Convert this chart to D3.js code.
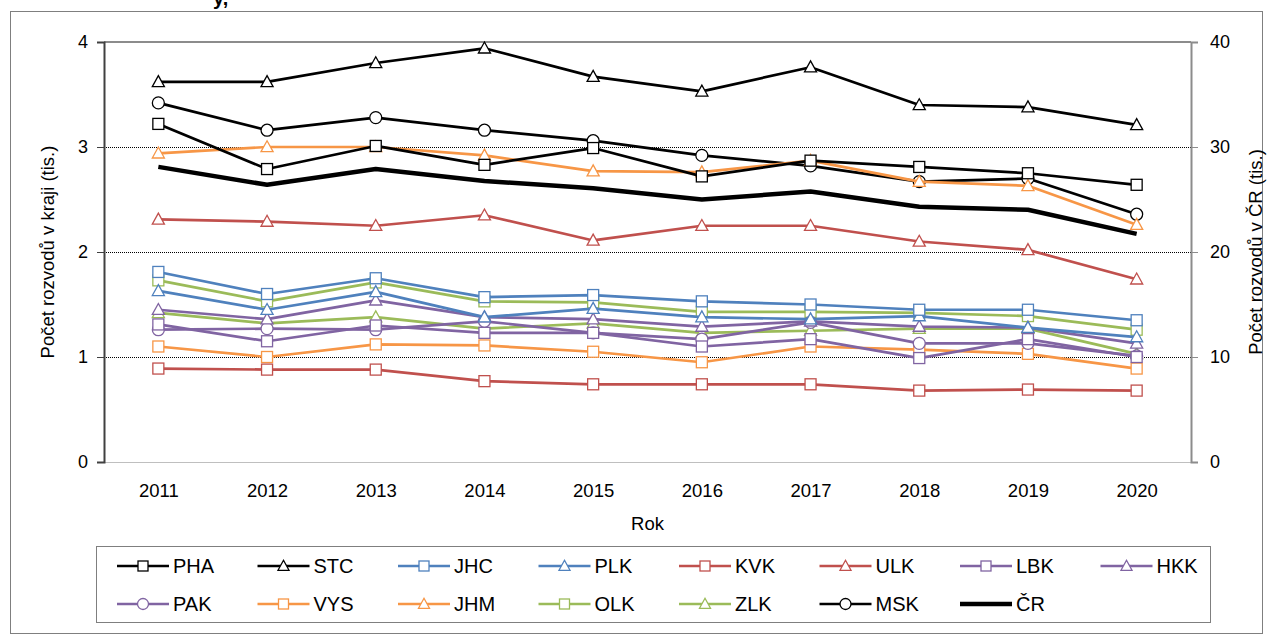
<!DOCTYPE html>
<html>
<head>
<meta charset="utf-8">
<script src="https://cdn.jsdelivr.net/npm/d3@7"></script>
<style>
  html, body { margin: 0; padding: 0; background: #fff; }
  svg { display: block; font-family: "Liberation Sans", Arial, sans-serif; }
</style>
</head>
<body>
<svg id="chart" width="1273" height="635"></svg>
<script>
// ---- data ----
const years = ["2011","2012","2013","2014","2015","2016","2017","2018","2019","2020"];
const leftTicks = [0, 1, 2, 3, 4];
const rightTicks = [0, 10, 20, 30, 40];
const PHA = [3.22, 2.79, 3.01, 2.83, 2.99, 2.72, 2.87, 2.81, 2.75, 2.64];
const STC = [3.62, 3.62, 3.80, 3.94, 3.67, 3.53, 3.76, 3.40, 3.38, 3.21];
const JHC = [1.81, 1.60, 1.75, 1.57, 1.59, 1.53, 1.50, 1.45, 1.45, 1.35];
const PLK = [1.63, 1.45, 1.62, 1.38, 1.46, 1.38, 1.36, 1.39, 1.28, 1.19];
const KVK = [0.89, 0.88, 0.88, 0.77, 0.74, 0.74, 0.74, 0.68, 0.69, 0.68];
const ULK = [2.31, 2.29, 2.25, 2.35, 2.11, 2.25, 2.25, 2.10, 2.02, 1.74];
const LBK = [1.31, 1.15, 1.30, 1.23, 1.23, 1.10, 1.17, 0.99, 1.17, 1.00];
const HKK = [1.45, 1.36, 1.54, 1.38, 1.36, 1.29, 1.34, 1.29, 1.28, 1.13];
const PAK = [1.26, 1.27, 1.26, 1.34, 1.23, 1.17, 1.33, 1.13, 1.13, 1.01];
const VYS = [1.10, 1.00, 1.12, 1.11, 1.05, 0.95, 1.10, 1.07, 1.03, 0.89];
const JHM = [2.94, 3.00, 3.00, 2.92, 2.77, 2.76, 2.87, 2.67, 2.63, 2.26];
const OLK = [1.73, 1.53, 1.71, 1.53, 1.52, 1.43, 1.43, 1.42, 1.39, 1.26];
const ZLK = [1.42, 1.32, 1.38, 1.27, 1.32, 1.23, 1.25, 1.27, 1.27, 1.03];
const MSK = [3.42, 3.16, 3.28, 3.16, 3.06, 2.92, 2.82, 2.67, 2.70, 2.36];
const CR  = [28.11, 26.40, 27.90, 26.76, 26.08, 25.00, 25.76, 24.31, 24.02, 21.73];

const seriesNames = ["PHA","STC","JHC","PLK","KVK","ULK","LBK","HKK","PAK","VYS","JHM","OLK","ZLK","MSK","ČR"];
const seriesValues = [PHA, STC, JHC, PLK, KVK, ULK, LBK, HKK, PAK, VYS, JHM, OLK, ZLK, MSK, CR];
const seriesColors = ["#000000","#000000","#4F81BD","#4F81BD","#C0504D","#C0504D","#8064A2","#8064A2",
                      "#8064A2","#F79646","#F79646","#9BBB59","#9BBB59","#000000","#000000"];
const seriesMarkers = ["square","triangle","square","triangle","square","triangle","square","triangle",
                       "circle","square","triangle","square","triangle","circle","none"];

// ---- layout ----
const svg = d3.select("#chart");
const L = 104, R = 1191, T = 42, B = 462;

const x = d3.scalePoint().domain(years).range([L, R]).padding(0.5);
const yL = d3.scaleLinear().domain([0, 4]).range([B, T]);
const yR = d3.scaleLinear().domain([0, 40]).range([B, T]);

// outer frame
svg.append("rect").attr("x", 10.5).attr("y", 11.5).attr("width", 1252).attr("height", 622)
  .attr("fill", "none").attr("stroke", "#7f7f7f").attr("stroke-width", 1);

// cut-off title fragment (only its lowest part is inside the picture)
svg.append("text").attr("x", 213).attr("y", 5).attr("text-anchor", "start")
  .attr("font-size", 20).attr("font-weight", "bold").attr("fill", "#000").text("y,");

// gridlines
svg.append("g").selectAll("line").data([1, 2, 3]).join("line")
  .attr("x1", L).attr("x2", R).attr("y1", d => yL(d) + 0.5).attr("y2", d => yL(d) + 0.5)
  .attr("stroke", "#000").attr("stroke-width", 1).attr("stroke-dasharray", "1,1");

// plot border top & bottom
svg.append("line").attr("x1", L).attr("x2", R).attr("y1", T).attr("y2", T)
  .attr("stroke", "#8c8c8c").attr("stroke-width", 2);
svg.append("line").attr("x1", L).attr("x2", R).attr("y1", B + 0.5).attr("y2", B + 0.5)
  .attr("stroke", "#bfbfbf").attr("stroke-width", 1);

// left axis
const axL = d3.axisLeft(yL).tickValues(leftTicks).tickSize(7).tickPadding(9).tickFormat(d3.format("d"));
const gL = svg.append("g").attr("transform", `translate(${L},0)`).call(axL);
gL.select(".domain").attr("stroke", "#404040").attr("stroke-width", 2);
gL.selectAll(".tick line").attr("stroke", "#404040").attr("stroke-width", 1);
gL.selectAll(".tick text").attr("font-size", 18).attr("fill", "#000")
  .attr("font-family", "Liberation Sans, Arial, sans-serif");

// right axis
const axR = d3.axisRight(yR).tickValues(rightTicks).tickSize(7).tickPadding(12).tickFormat(d3.format("d"));
const gR = svg.append("g").attr("transform", `translate(${R},0)`).call(axR);
gR.select(".domain").attr("stroke", "#8c8c8c").attr("stroke-width", 2);
gR.selectAll(".tick line").attr("stroke", "#8c8c8c").attr("stroke-width", 1);
gR.selectAll(".tick text").attr("font-size", 18).attr("fill", "#000")
  .attr("font-family", "Liberation Sans, Arial, sans-serif");

// bottom axis labels
const axB = d3.axisBottom(x).tickSize(0).tickPadding(22);
const gB = svg.append("g").attr("transform", `translate(0,${B})`).call(axB);
gB.select(".domain").remove();
gB.selectAll(".tick text").attr("font-size", 18.5).attr("fill", "#000")
  .attr("font-family", "Liberation Sans, Arial, sans-serif");

// axis titles
svg.append("text").attr("x", (L + R) / 2).attr("y", 530).attr("text-anchor", "middle")
  .attr("font-size", 18.5).text("Rok");
svg.append("text").attr("transform", `translate(54,${(T + B) / 2}) rotate(-90)`)
  .attr("text-anchor", "middle").attr("font-size", 18.5).text("Počet rozvodů v kraji (tis.)");
svg.append("text").attr("transform", `translate(1262,${(T + B) / 2}) rotate(-90)`)
  .attr("text-anchor", "middle").attr("font-size", 18.5).text("Počet rozvodů v ČR (tis.)");

// marker drawing
function drawMarker(g, type, color, cx, cy, s) {
  if (type === "square") {
    g.append("rect").attr("x", cx - s / 2).attr("y", cy - s / 2).attr("width", s).attr("height", s)
      .attr("fill", "#fff").attr("stroke", color).attr("stroke-width", 1.3);
  } else if (type === "triangle") {
    const h = s * 0.95;
    g.append("path").attr("d", `M${cx},${cy - h * 0.6} L${cx + s * 0.55},${cy + h * 0.45} L${cx - s * 0.55},${cy + h * 0.45} Z`)
      .attr("fill", "#fff").attr("stroke", color).attr("stroke-width", 1.3);
  } else if (type === "circle") {
    g.append("circle").attr("cx", cx).attr("cy", cy).attr("r", s / 2 + 0.5)
      .attr("fill", "#fff").attr("stroke", color).attr("stroke-width", 1.3);
  }
}

// series (draw in reverse so PHA etc. on top, ČR under)
const plot = svg.append("g");
const order = d3.range(seriesNames.length).reverse();
order.forEach(i => {
  const isCR = seriesNames[i] === "ČR";
  const yScale = isCR ? yR : yL;
  const line = d3.line().x((d, j) => x(years[j])).y(d => yScale(d));
  const g = plot.append("g");
  g.append("path").datum(seriesValues[i]).attr("d", line)
    .attr("fill", "none").attr("stroke", seriesColors[i])
    .attr("stroke-width", isCR ? 4.5 : 2.7).attr("stroke-linejoin", "round");
  seriesValues[i].forEach((v, j) => {
    drawMarker(g, seriesMarkers[i], seriesColors[i], x(years[j]), yScale(v), 11);
  });
});

// legend
svg.append("rect").attr("x", 96.5).attr("y", 546.5).attr("width", 1114).attr("height", 76)
  .attr("fill", "none").attr("stroke", "#7f7f7f").attr("stroke-width", 1);
const leg = svg.append("g");
seriesNames.forEach((name, i) => {
  const col = i % 8, row = Math.floor(i / 8);
  const x0 = 117 + col * 140.5, y0 = 566 + row * 38;
  const isCR = name === "ČR";
  const g = leg.append("g");
  g.append("line").attr("x1", x0).attr("x2", x0 + 52).attr("y1", y0).attr("y2", y0)
    .attr("stroke", seriesColors[i]).attr("stroke-width", isCR ? 4.5 : 2.7);
  drawMarker(g, seriesMarkers[i], seriesColors[i], x0 + 26, y0, 10);
  g.append("text").attr("x", x0 + 56).attr("y", y0 + 7).attr("font-size", 20).attr("fill", "#000").text(name);
});
</script>
</body>
</html>
